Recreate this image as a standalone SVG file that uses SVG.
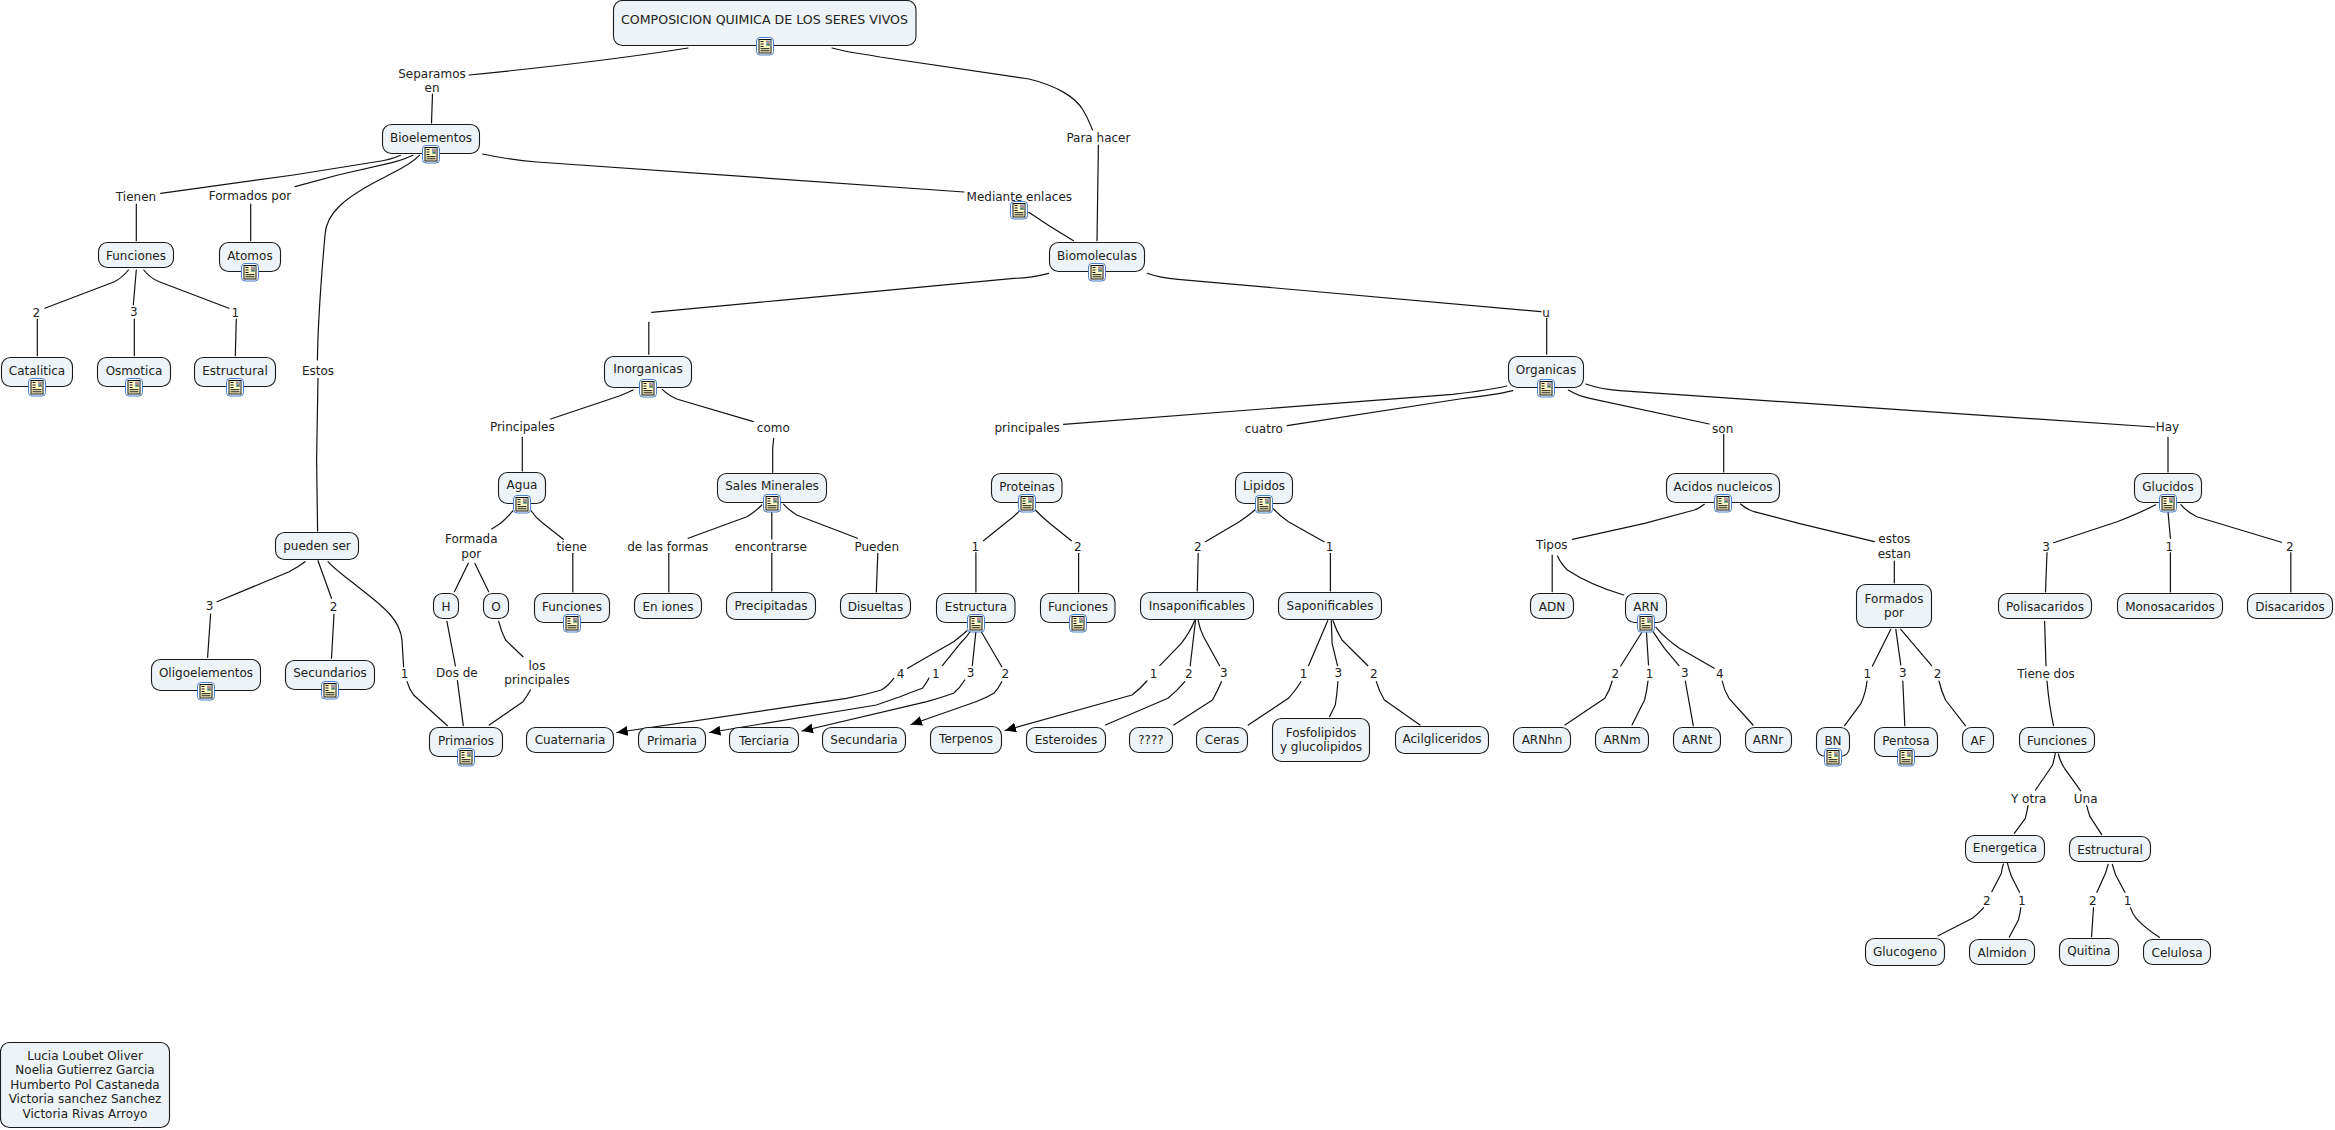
<svg xmlns="http://www.w3.org/2000/svg" width="2335" height="1130" viewBox="0 0 2335 1130">
<style>
.n{fill:#edf3f6;stroke:#1a1a1a;stroke-width:1.1}
.t{font-family:"DejaVu Sans",Verdana,sans-serif;font-size:12px;fill:#222;text-anchor:middle}
#connectors path{fill:none;stroke:#111;stroke-width:1.2;stroke-linecap:round;stroke-linejoin:round}
</style>
<defs>
<marker id="ah" markerUnits="userSpaceOnUse" markerWidth="12" markerHeight="12" refX="11" refY="5" orient="auto"><path d="M0 0L11 5L0 10Z" fill="#000"/></marker>
<g id="ic">
<rect x="-8.5" y="-8.5" width="17" height="17.5" rx="3.5" fill="#fff" stroke="#4a7fc9" stroke-width="1"/>
<rect x="-6" y="-6.5" width="12" height="13.5" fill="#fff8c4" stroke="#111" stroke-width="1"/>
<rect x="1" y="-5.500" width="4.500" height="5" fill="#7fa5d6"/>
<path d="M1.500 -5L5 -2" stroke="#e08050" stroke-width="1.200"/>
<path d="M1 -.5L3 -2.5L5.500 -.5Z" fill="#3c7d3c"/>
<path d="M-4.5 -4.5h3M-4.5 -2h3M-4.5 .5h3M-4.5 2.7h9M-4.5 4.8h9" stroke="#111" stroke-width="1"/>
</g>
</defs>
<rect width="2335" height="1130" fill="#fff"/>
<g id="connectors">
<path d="M688 48 Q600 62 469 75"/>
<path d="M432.5 94L431.5 123"/>
<path d="M832 48C850 53 865 54 880 57L1029 79C1058 86 1076 98 1083 110C1088 118 1090 124 1092.5 130"/>
<path d="M1098.4 145L1097 240.7"/>
<path d="M482.6 154Q510 160 537 162L964 192"/>
<path d="M1028.8 212.3Q1050 227 1073.5 240.7"/>
<path d="M400.5 155.3Q390 160 378 161.5L293.5 175L160.7 193.3"/>
<path d="M413 155.3Q403 160 393 162.3L338 175L295 186.7"/>
<path d="M419.4 155.3C410 165 398 170 385 177C345 197 326 213 325 235C321 280 318 320 317.4 360"/>
<path d="M318 378.3L316.6 460L317.6 531"/>
<path d="M136.3 204V240.7"/>
<path d="M250.7 204V240.7"/>
<path d="M128.4 270Q122 278 114.4 281.7L44.8 308.3"/>
<path d="M37.3 319V355.7"/>
<path d="M136.3 270L133.3 305"/>
<path d="M134.3 319V355.7"/>
<path d="M143.8 270Q150 278 159.2 281.7L228.9 308.3"/>
<path d="M236.3 319L235.3 355.7"/>
<path d="M1048.7 273.3Q1030 278 1013.8 278.3L780 300.3L651.7 312.3"/>
<path d="M648.8 322.3V354.3"/>
<path d="M1147.2 273.3Q1160 278 1178 279.3L1541 311.7"/>
<path d="M1546.7 318.3V354.3"/>
<path d="M633 390Q627 393 620 395.7L550.7 419"/>
<path d="M522.3 437.3V471"/>
<path d="M662.3 389.3Q668 395 676.7 399L753.3 421.7"/>
<path d="M773.7 438.3L772.7 448V472.3"/>
<path d="M1506.8 386Q1490 390 1452.7 394.3L1063.5 424.3"/>
<path d="M1512.8 390.7Q1495 395 1459.5 399L1287.2 425.7"/>
<path d="M1568.4 390Q1578 396 1589.8 398.3L1709.2 424"/>
<path d="M1723.7 434.3V472"/>
<path d="M1585.8 384Q1600 389 1619.7 390.7L2154.5 427"/>
<path d="M2168 437V472"/>
<path d="M1704.3 504.3Q1700 508 1694.3 510L1644.6 523.3L1572.4 539.3"/>
<path d="M1740.6 504Q1746 509 1754 511.7L1798.8 523.3L1874.4 541.7"/>
<path d="M1894.3 561V583"/>
<path d="M1552.2 555V591.7"/>
<path d="M1557.5 556Q1561 564 1567.4 570Q1590 585 1623.7 595"/>
<path d="M1641.6 632.7L1620.7 666"/>
<path d="M1612.2 681Q1610 690 1604.8 698.3L1565 725"/>
<path d="M1646.5 632.7L1648.5 665"/>
<path d="M1648 681Q1647 690 1644.6 700L1632 725"/>
<path d="M1653 631.7L1664.5 648.3L1679 665.7"/>
<path d="M1685.3 681L1693.3 725.7"/>
<path d="M1656 627.3Q1665 638 1679.4 648.3L1714.2 668.3"/>
<path d="M1722.2 681Q1724 690 1729 698.3L1753 725"/>
<path d="M1890.8 629.3L1872.4 666"/>
<path d="M1867 681Q1866 692 1861 703.3L1844.6 725.7"/>
<path d="M1895.8 629.3L1900.8 665"/>
<path d="M1902.8 681L1904.8 725.7"/>
<path d="M1900.8 629.3L1931.6 665.7"/>
<path d="M1939 681Q1941 690 1945.5 700L1965.4 725.7"/>
<path d="M2155.5 504.7Q2140 513 2117.2 521.7L2053.5 542.7"/>
<path d="M2047 552.7L2045.5 592"/>
<path d="M2168 511.7L2170.4 538.3"/>
<path d="M2170.4 552.7V592"/>
<path d="M2180.9 504.7Q2187 512 2196.8 516.7L2281.4 542.3"/>
<path d="M2290.8 552.7V592"/>
<path d="M2044.6 621.3L2046 665.7"/>
<path d="M2047 681Q2049 705 2053.5 725.7"/>
<path d="M2055.3 753.3Q2054 760 2052.6 765L2035.5 790"/>
<path d="M2058.4 754Q2060 761 2064.5 768.3L2080.5 790.7"/>
<path d="M2028 805.7Q2027 812 2025.3 818.3L2014.3 833.3"/>
<path d="M2086.7 805.7Q2088 811 2090 816.7L2101.7 834.7"/>
<path d="M2003.4 864Q2002 868 2001.4 873.3L1991.8 891.7"/>
<path d="M1983.6 907.7Q1978 914 1972.4 918.3L1938.2 935.7"/>
<path d="M2007.5 863.3Q2009 870 2011.6 876.7L2019.5 892.3"/>
<path d="M2020.8 907.7Q2020 914 2018.4 920L2009.2 937.3"/>
<path d="M2108.2 864.3Q2107 868 2105.5 873.3L2096.9 892.3"/>
<path d="M2093.5 907.7L2091.5 936.7"/>
<path d="M2112.3 864.3Q2114 870 2115.7 875L2124.9 892.3"/>
<path d="M2130.4 907.7Q2132 913 2136.2 918.3Q2145 928 2159.4 937.3"/>
<path d="M1019.6 510.7Q1014 517 1007 521.7L983.5 540.7"/>
<path d="M975.9 552.7V592"/>
<path d="M1035.3 510Q1042 517 1049.6 523.3L1071.4 540.7"/>
<path d="M1078.6 553.3V592"/>
<path d="M1254.9 510Q1248 516 1239.3 521.7L1205.4 541.7"/>
<path d="M1198.2 553.3L1197.3 591"/>
<path d="M1272.8 508.3Q1280 516 1288.4 521.7L1324 541.7"/>
<path d="M1330.4 553.3V591"/>
<path d="M967 630.7Q961 636 953.6 641.7L907.6 668.3"/>
<path d="M970 631.7Q966 638 960.3 643.3L942.4 665.7"/>
<path d="M975.9 631.7L972.3 665.7"/>
<path d="M981.3 631.7L1001.8 666.7"/>
<path d="M1001.8 681.7Q998 689 993.8 693.3Q986 698 975.9 701.7L911 724.5" marker-end="url(#ah)"/>
<path d="M964.7 680Q960 688 953.6 693.3Q940 698 926.8 701.7L802 731" marker-end="url(#ah)"/>
<path d="M929 678Q926 684 922.3 688.3Q912 692 900 696.7L876.3 705L709.5 732.5" marker-end="url(#ah)"/>
<path d="M893.7 678.3Q888 686 881.3 690Q865 695 846.4 698.3L616.7 732.5" marker-end="url(#ah)"/>
<path d="M1194.6 620.7Q1190 632 1181.3 643.3L1159.8 665.7"/>
<path d="M1146.9 681Q1140 689 1132 695L1005 730.5" marker-end="url(#ah)"/>
<path d="M1195.5 620.7L1190.2 665.7"/>
<path d="M1184.8 681.7Q1178 690 1167.9 698.3L1105.4 725"/>
<path d="M1198.2 620.7Q1200 630 1203.6 636.7L1219.6 665.7"/>
<path d="M1221.4 681.7Q1218 690 1212.5 700L1173.7 725"/>
<path d="M1327.7 620.7L1308.5 665.7"/>
<path d="M1300.9 681.7Q1296 690 1288.4 698.3L1248.2 725"/>
<path d="M1331.3 620.7L1332.1 643.3L1337.5 665.7"/>
<path d="M1337.9 681.7Q1337 695 1335.3 705L1329.5 716.7"/>
<path d="M1333 620.7Q1336 630 1342 640L1367.9 665.7"/>
<path d="M1376.3 681.7Q1379 691 1384.4 700L1420 725"/>
<path d="M305.1 561.7Q298 567 289.2 571.7L217 601.7"/>
<path d="M210.6 614L207.6 657.3"/>
<path d="M318 560.7L331.5 598.3"/>
<path d="M334 614L331.5 658.3"/>
<path d="M328 561.7C335 570 345 576 362 590C385 608 400 620 402 640L403.6 666.7"/>
<path d="M407.1 681.7Q409 689 413.6 695L447.4 725.7"/>
<path d="M457.4 680.7L463.3 725.7"/>
<path d="M446.9 621.3L455.4 666"/>
<path d="M498.7 621.3Q501 631 505.6 640L523 656.7"/>
<path d="M530.5 690Q527 696 523 701.7L489.2 725"/>
<path d="M513 510.7Q507 518 500.6 523.3L491.7 529"/>
<path d="M468.3 563.3L454.4 591.7"/>
<path d="M474.8 563.3L488.7 591.7"/>
<path d="M530.5 510Q536 518 543 523.3L563.3 539.3"/>
<path d="M572.8 553.3V592"/>
<path d="M761.8 505Q755 512 746.9 516.7L688.2 538.3"/>
<path d="M668.8 553.3V592"/>
<path d="M771.8 511.7V539"/>
<path d="M771.8 553.3V591"/>
<path d="M783.7 504.3Q789 510 796.7 515L857.4 538.3"/>
<path d="M877.8 553.3L876.3 592"/>
</g>
<g id="title"><rect class="n" x="613.5" y="0.5" width="302.5" height="45" rx="9"/><text class="t" style="font-size:12.6px" x="764.5" y="24">COMPOSICION QUIMICA DE LOS SERES VIVOS</text><use href="#ic" x="765" y="46"/></g>
<g id="bioelementos"><rect class="n" x="382.5" y="124.5" width="97" height="29" rx="9"/><text class="t" x="431" y="141.5">Bioelementos</text><use href="#ic" x="431" y="154"/></g>
<g id="funciones1"><rect class="n" x="98.5" y="242.5" width="75" height="25" rx="9"/><text class="t" x="136" y="260">Funciones</text></g>
<g id="atomos"><rect class="n" x="219.5" y="242.5" width="61" height="29" rx="9"/><text class="t" x="250" y="260">Atomos</text><use href="#ic" x="250" y="272"/></g>
<g id="catalitica"><rect class="n" x="1.5" y="357.5" width="71" height="29" rx="9"/><text class="t" x="37" y="374.5">Catalitica</text><use href="#ic" x="37" y="387"/></g>
<g id="osmotica"><rect class="n" x="97.5" y="357.5" width="73" height="29" rx="9"/><text class="t" x="134" y="374.5">Osmotica</text><use href="#ic" x="134" y="387"/></g>
<g id="estructural1"><rect class="n" x="194.5" y="357.5" width="81" height="29" rx="9"/><text class="t" x="235" y="374.5">Estructural</text><use href="#ic" x="235" y="387"/></g>
<g id="inorganicas"><rect class="n" x="604.5" y="356.5" width="87" height="31" rx="9"/><text class="t" x="648" y="373">Inorganicas</text><use href="#ic" x="648" y="388"/></g>
<g id="biomoleculas"><rect class="n" x="1049.5" y="242.5" width="95" height="29" rx="9"/><text class="t" x="1097" y="259.5">Biomoleculas</text><use href="#ic" x="1097" y="272"/></g>
<g id="organicas"><rect class="n" x="1508.5" y="356.5" width="75" height="31" rx="9"/><text class="t" x="1546" y="373.5">Organicas</text><use href="#ic" x="1546" y="388"/></g>
<g id="agua"><rect class="n" x="498.5" y="472.5" width="47" height="31" rx="9"/><text class="t" x="522" y="489">Agua</text><use href="#ic" x="522" y="504"/></g>
<g id="sales"><rect class="n" x="717.5" y="473.5" width="109" height="29" rx="9"/><text class="t" x="772" y="490">Sales Minerales</text><use href="#ic" x="772" y="503"/></g>
<g id="proteinas"><rect class="n" x="991.5" y="473.5" width="70.500" height="29" rx="9"/><text class="t" x="1027" y="491">Proteinas</text><use href="#ic" x="1027" y="503"/></g>
<g id="lipidos"><rect class="n" x="1235.5" y="472.5" width="57" height="31" rx="9"/><text class="t" x="1264" y="489.500">Lipidos</text><use href="#ic" x="1264" y="504"/></g>
<g id="acidos"><rect class="n" x="1666.5" y="473.5" width="113" height="29" rx="9"/><text class="t" x="1723" y="490.500">Acidos nucleicos</text><use href="#ic" x="1723" y="503"/></g>
<g id="glucidos"><rect class="n" x="2134.5" y="473.500" width="67" height="29" rx="9"/><text class="t" x="2168" y="490.500">Glucidos</text><use href="#ic" x="2168" y="503"/></g>
<g id="pueden"><rect class="n" x="275.5" y="532.5" width="83" height="27" rx="9"/><text class="t" x="317" y="550">pueden ser</text></g>
<g id="oligo"><rect class="n" x="151.5" y="659.5" width="109" height="31" rx="9"/><text class="t" x="206" y="676.5">Oligoelementos</text><use href="#ic" x="206" y="691"/></g>
<g id="secundarios"><rect class="n" x="285.5" y="660.5" width="89" height="29" rx="9"/><text class="t" x="330" y="677">Secundarios</text><use href="#ic" x="330" y="690"/></g>
<g id="h"><rect class="n" x="433.5" y="593.5" width="25" height="25" rx="9"/><text class="t" x="446" y="611">H</text></g>
<g id="o"><rect class="n" x="483.5" y="593.5" width="25" height="25" rx="9"/><text class="t" x="496" y="610.500">O</text></g>
<g id="funciones2"><rect class="n" x="534.5" y="593.5" width="75" height="29" rx="9"/><text class="t" x="572" y="611">Funciones</text><use href="#ic" x="572" y="623"/></g>
<g id="eniones"><rect class="n" x="634.5" y="593.5" width="67" height="25" rx="9"/><text class="t" x="668" y="611">En iones</text></g>
<g id="precipitadas"><rect class="n" x="726.5" y="592.5" width="89" height="27" rx="9"/><text class="t" x="771" y="609.500">Precipitadas</text></g>
<g id="disueltas"><rect class="n" x="840.5" y="593.5" width="70" height="25" rx="9"/><text class="t" x="875.500" y="610.500">Disueltas</text></g>
<g id="estructura"><rect class="n" x="936.5" y="593.5" width="78.500" height="29" rx="9"/><text class="t" x="976" y="611">Estructura</text><use href="#ic" x="976" y="623"/></g>
<g id="funciones3"><rect class="n" x="1040.5" y="593.5" width="74.500" height="29" rx="9"/><text class="t" x="1078" y="611">Funciones</text><use href="#ic" x="1078" y="623"/></g>
<g id="insaponificables"><rect class="n" x="1140.5" y="592.5" width="113" height="27" rx="9"/><text class="t" x="1197" y="609.500">Insaponificables</text></g>
<g id="saponificables"><rect class="n" x="1278.5" y="592.5" width="103" height="27" rx="9"/><text class="t" x="1330" y="609.500">Saponificables</text></g>
<g id="adn"><rect class="n" x="1530.5" y="593.5" width="43" height="25" rx="9"/><text class="t" x="1552" y="611">ADN</text></g>
<g id="arn"><rect class="n" x="1625.5" y="593.5" width="41" height="29" rx="9"/><text class="t" x="1646" y="610.500">ARN</text><use href="#ic" x="1646" y="623"/></g>
<g id="formados"><rect class="n" x="1856.5" y="584.5" width="75" height="43" rx="9"/><text class="t" x="1894" y="602.500">Formados</text><text class="t" x="1894" y="617">por</text></g>
<g id="polisacaridos"><rect class="n" x="1998.5" y="593.5" width="93" height="25" rx="9"/><text class="t" x="2045" y="610.500">Polisacaridos</text></g>
<g id="monosacaridos"><rect class="n" x="2117.5" y="593.5" width="105" height="25" rx="9"/><text class="t" x="2170" y="610.500">Monosacaridos</text></g>
<g id="disacaridos"><rect class="n" x="2247.5" y="593.5" width="85" height="25" rx="9"/><text class="t" x="2290" y="610.500">Disacaridos</text></g>
<g id="primarios"><rect class="n" x="429.5" y="727.5" width="73" height="29" rx="9"/><text class="t" x="466" y="745">Primarios</text><use href="#ic" x="466" y="757"/></g>
<g id="cuaternaria"><rect class="n" x="526.5" y="727.5" width="87" height="25" rx="9"/><text class="t" x="570" y="744">Cuaternaria</text></g>
<g id="primaria"><rect class="n" x="638.5" y="727.5" width="67" height="25" rx="9"/><text class="t" x="672" y="745">Primaria</text></g>
<g id="terciaria"><rect class="n" x="729.5" y="727.5" width="69" height="25" rx="9"/><text class="t" x="764" y="745">Terciaria</text></g>
<g id="secundaria"><rect class="n" x="822.5" y="727.5" width="83" height="25" rx="9"/><text class="t" x="864" y="744">Secundaria</text></g>
<g id="terpenos"><rect class="n" x="930.5" y="726.5" width="71" height="27" rx="9"/><text class="t" x="966" y="743">Terpenos</text></g>
<g id="esteroides"><rect class="n" x="1026.5" y="727.5" width="79" height="25" rx="9"/><text class="t" x="1066" y="744">Esteroides</text></g>
<g id="qqqq"><rect class="n" x="1129.5" y="727.5" width="43" height="25" rx="9"/><text class="t" x="1151" y="744">????</text></g>
<g id="ceras"><rect class="n" x="1196.5" y="727.5" width="51" height="25" rx="9"/><text class="t" x="1222" y="744">Ceras</text></g>
<g id="fosfo"><rect class="n" x="1272.5" y="718.5" width="97" height="43" rx="9"/><text class="t" x="1321" y="736.500">Fosfolipidos</text><text class="t" x="1321" y="751">y glucolipidos</text></g>
<g id="acil"><rect class="n" x="1395.5" y="726.5" width="93" height="27" rx="9"/><text class="t" x="1442" y="743">Acilgliceridos</text></g>
<g id="arnhn"><rect class="n" x="1513.5" y="727.5" width="57" height="25" rx="9"/><text class="t" x="1542" y="744">ARNhn</text></g>
<g id="arnm"><rect class="n" x="1595.5" y="727.5" width="53" height="25" rx="9"/><text class="t" x="1622" y="744">ARNm</text></g>
<g id="arnt"><rect class="n" x="1673.5" y="727.5" width="47" height="25" rx="9"/><text class="t" x="1697" y="744">ARNt</text></g>
<g id="arnr"><rect class="n" x="1745.5" y="727.5" width="46" height="25" rx="9"/><text class="t" x="1768" y="744">ARNr</text></g>
<g id="bn"><rect class="n" x="1816.5" y="727.5" width="33" height="29" rx="9"/><text class="t" x="1833" y="745">BN</text><use href="#ic" x="1833" y="757"/></g>
<g id="pentosa"><rect class="n" x="1874.5" y="727.5" width="63" height="29" rx="9"/><text class="t" x="1906" y="745">Pentosa</text><use href="#ic" x="1906" y="757"/></g>
<g id="af"><rect class="n" x="1962.5" y="727.5" width="31" height="25" rx="9"/><text class="t" x="1978" y="745">AF</text></g>
<g id="funciones4"><rect class="n" x="2019.5" y="727.5" width="75" height="25" rx="9"/><text class="t" x="2057" y="745">Funciones</text></g>
<g id="energetica"><rect class="n" x="1965.5" y="835.5" width="79" height="27" rx="9"/><text class="t" x="2005" y="852">Energetica</text></g>
<g id="estructural2"><rect class="n" x="2069.5" y="836.5" width="81" height="25" rx="9"/><text class="t" x="2110" y="853.500">Estructural</text></g>
<g id="glucogeno"><rect class="n" x="1865.5" y="938.5" width="79" height="27" rx="9"/><text class="t" x="1905" y="955.500">Glucogeno</text></g>
<g id="almidon"><rect class="n" x="1969.5" y="939.5" width="65" height="25" rx="9"/><text class="t" x="2002" y="956.500">Almidon</text></g>
<g id="quitina"><rect class="n" x="2059.5" y="938.5" width="59" height="27" rx="9"/><text class="t" x="2089" y="955">Quitina</text></g>
<g id="celulosa"><rect class="n" x="2143.5" y="939.5" width="67" height="25" rx="9"/><text class="t" x="2177" y="956.500">Celulosa</text></g>
<g id="autores"><rect class="n" x="0.5" y="1042.5" width="169" height="85" rx="9"/><text class="t" x="85" y="1059.500">Lucia Loubet Oliver</text><text class="t" x="85" y="1074">Noelia Gutierrez Garcia</text><text class="t" x="85" y="1088.500">Humberto Pol Castaneda</text><text class="t" x="85" y="1103">Victoria sanchez Sanchez</text><text class="t" x="85" y="1118">Victoria Rivas Arroyo</text></g>
<g id="labels">
<text class="t" x="432" y="77.500">Separamos</text><text class="t" x="432" y="92">en</text>
<text class="t" x="136" y="201">Tienen</text>
<text class="t" x="250" y="199.500">Formados por</text>
<text class="t" x="318" y="375">Estos</text>
<text class="t" x="36.300" y="317">2</text><text class="t" x="133.800" y="316">3</text><text class="t" x="235.300" y="317">1</text>
<text class="t" x="1098.400" y="141.500">Para hacer</text>
<text class="t" x="1019.300" y="200.500">Mediante enlaces</text><use href="#ic" x="1019" y="210"/>
<text class="t" x="1546" y="316.500">u</text>
<text class="t" x="522.300" y="431">Principales</text><text class="t" x="773.300" y="432">como</text>
<text class="t" x="1027.200" y="431.500">principales</text><text class="t" x="1263.800" y="432.500">cuatro</text>
<text class="t" x="1722.700" y="432.500">son</text><text class="t" x="2167.400" y="431">Hay</text>
<text class="t" x="471.300" y="542.500">Formada</text><text class="t" x="471.300" y="557.500">por</text>
<text class="t" x="571.800" y="551">tiene</text>
<text class="t" x="667.800" y="550.500">de las formas</text>
<text class="t" x="770.800" y="550.500">encontrarse</text>
<text class="t" x="876.800" y="550.500">Pueden</text>
<text class="t" x="975.400" y="551">1</text><text class="t" x="1077.700" y="551">2</text>
<text class="t" x="1197.800" y="551">2</text><text class="t" x="1329.500" y="551">1</text>
<text class="t" x="1551.800" y="549">Tipos</text>
<text class="t" x="1894.300" y="543">estos</text><text class="t" x="1894.300" y="557.500">estan</text>
<text class="t" x="2046" y="550.500">3</text><text class="t" x="2169.400" y="551">1</text><text class="t" x="2289.800" y="551">2</text>
<text class="t" x="209.600" y="610">3</text><text class="t" x="333.500" y="610.500">2</text><text class="t" x="404.600" y="678">1</text>
<text class="t" x="456.900" y="677">Dos de</text>
<text class="t" x="537" y="669.500">los</text><text class="t" x="537" y="684">principales</text>
<text class="t" x="900.600" y="677.500">4</text><text class="t" x="935.700" y="677.500">1</text><text class="t" x="970.500" y="677">3</text><text class="t" x="1005.400" y="677.500">2</text>
<text class="t" x="1153.600" y="677.500">1</text><text class="t" x="1188.800" y="677.500">2</text><text class="t" x="1223.700" y="677">3</text>
<text class="t" x="1303.600" y="677.500">1</text><text class="t" x="1338.400" y="677">3</text><text class="t" x="1373.700" y="677.500">2</text>
<text class="t" x="1615.200" y="677.500">2</text><text class="t" x="1649.500" y="677.500">1</text><text class="t" x="1684.900" y="677">3</text><text class="t" x="1719.700" y="677.500">4</text>
<text class="t" x="1867.400" y="677.500">1</text><text class="t" x="1902.800" y="677">3</text><text class="t" x="1937.600" y="677.500">2</text>
<text class="t" x="2046" y="677.500">Tiene dos</text>
<text class="t" x="2028.700" y="803">Y otra</text><text class="t" x="2085.700" y="803">Una</text>
<text class="t" x="1986.700" y="904.500">2</text><text class="t" x="2021.800" y="904.500">1</text><text class="t" x="2092.800" y="904.500">2</text><text class="t" x="2127.600" y="904.500">1</text>
</g>
</svg>
